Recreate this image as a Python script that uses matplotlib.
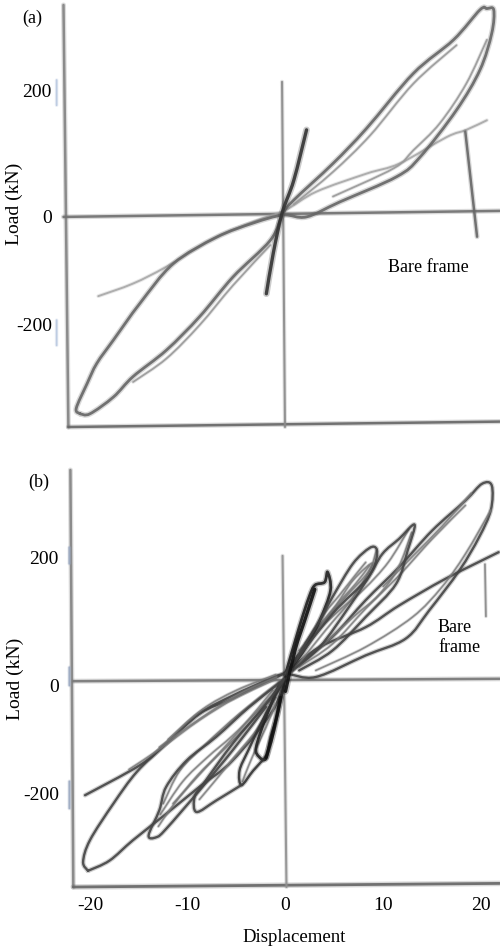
import matplotlib
matplotlib.use('Agg')
import matplotlib.pyplot as plt
from matplotlib.path import Path
from matplotlib.patches import PathPatch

plt.rcParams['font.family'] = ['Liberation Serif', 'DejaVu Serif']

W, H = 500, 946

# ---- panel (a) curves
a_bare_x = [-19.05, -15.5, -12.1, -7.3, -3.2, 0, 3.2, 8.3, 11.7, 16.5, 18.5, 20.6]
a_bare_y = [-135, -114, -86, -39, -11, 8, 39, 69, 86, 130, 142, 158]
a_loop_x = [-20.9, -21.3, -20.2, -19.2, -17.5, -14.8, -11.4, -7.0, -3.2, -0.2, 2.2, 5.6, 11.4, 13.8, 17.5, 19.9, 21.1, 21.3,
            20.6, 19.9, 17.2, 13.1, 8.3, 4.9, 0.9, -0.2, -1.5, -5.3, -8.7, -12.1, -15.5, -17.5, -19.9, -20.9]
a_loop_y = [-331, -322, -281, -247, -208, -147, -81, -37, -13, 0, -3, 22, 64, 97, 175, 242, 303, 342,
            344, 342, 292, 236, 144, 86, 25, 3, -42, -103, -169, -225, -269, -303, -331, -331]
a_in1_x = [17.5, 13.1, 8.7, 4.9, 0.9]
a_in1_y = [283, 219, 133, 72, 18]
a_in2_x = [20.6, 18.5, 15.8, 13.1, 11.1, 4.9]
a_in2_y = [292, 219, 153, 108, 78, 31]
a_in3_x = [-1.5, -5.3, -8.7, -12.1, -15.5]
a_in3_y = [-50, -117, -183, -239, -278]
a_stiff_x = [-1.9, -1.2, -0.3, 0.9, 2.2]
a_stiff_y = [-131, -64, 3, 58, 142]
a_pointer_x = [18.4, 19.6]
a_pointer_y = [139, -36]

# ---- panel (b) curves
b_bare_x = [-20.5, -14.9, -12.2, -8.8, -5.4, -2.0, 0, 3.5, 8.2, 11.6, 16.4, 21.8]
b_bare_y = [-193, -143, -107, -57, -32, -4, 12, 54, 87, 123, 168, 212]
b_loop_x = [-20.2, -20.7, -20, -17.6, -15.2, -12.2, -8.8, -5.4, -2, 0, 3.1, 8.2, 12.3, 14.7, 17.8, 19.8, 21, 21.1,
            20.1, 18.4, 15, 11.6, 8.2, 4.8, 1.4, 0, -1.3, -5.4, -8.8, -12.2, -15.6, -18, -20.2]
b_loop_y = [-319, -304, -268, -207, -154, -107, -57, -27, -2, 9, 4, 40, 68, 115, 182, 237, 282, 323,
            326, 298, 248, 187, 132, 71, 26, 4, -52, -135, -179, -224, -268, -302, -319]
b_big_in1_x = [21, 18.4, 16, 13, 8.2, 3.1]
b_big_in1_y = [282, 209, 154, 104, 54, 15]
b_big_in2_x = [18.4, 15, 11.6, 8.2, 4.8, 1.4]
b_big_in2_y = [290, 234, 173, 118, 59, 21]
b_big_in3_x = [10, 13, 16, 19]
b_big_in3_y = [155, 205, 255, 310]

# positive peaks
b_p1_x = [0, 1.4, 2.4, 3, 4, 4.3, 4.6, 3.5, 2.1, 0.7]
b_p1_y = [9, 87, 137, 157, 162, 179, 148, 98, 54, 21]
b_p2_x = [0, 3.1, 4.8, 6.9, 8.6, 9.3, 9.3, 8.7, 6.5, 3.5, 0.7]
b_p2_y = [9, 87, 137, 193, 219, 218, 201, 176, 121, 54, 15]
b_p2b_x = [1.4, 4.8, 6.9, 8.9, 6.9, 4.1, 1.1]
b_p2b_y = [48, 115, 165, 193, 137, 82, 21]
b_p3_x = [0, 4.8, 8.2, 9.9, 11.6, 13.2, 12.5, 11.3, 8.2, 4.8, 1.4]
b_p3_y = [9, 109, 165, 209, 234, 258, 215, 159, 104, 48, 15]
b_e1_x = [0.5, 3, 5.5, 8, 10.5, 12.6]
b_e1_y = [15, 75, 115, 150, 195, 250]
b_e2_x = [0.5, 4, 7, 9.5, 11.5, 12.9]
b_e2_y = [10, 60, 105, 140, 185, 245]
b_e3_x = [0.5, 3.2, 6, 8.5, 9.3]
b_e3_y = [20, 80, 135, 180, 215]
b_e4_x = [1, 3, 5, 7.2, 8.6]
b_e4_y = [30, 80, 120, 160, 190]
b_e5_x = [2, 4, 5.5, 7.2, 8.2]
b_e5_y = [60, 110, 140, 175, 195]
b_e6_x = [0, 1, 2, 3]
b_e6_y = [-20, 50, 100, 150]

# negative troughs
b_n1_x = [0, -0.8, -1.5, -2, -2.7, -3, -2, -0.6]
b_n1_y = [4, -57, -96, -132, -129, -113, -63, -7]
b_n2_x = [-2, -3.3, -4.5, -4.7, -3.8, -2, -0.2]
b_n2_y = [-129, -152, -176, -152, -118, -57, -2]
b_n3_x = [-4.5, -7.1, -9.1, -9.3, -8.4, -5.4, -2, -0.1]
b_n3_y = [-176, -202, -221, -196, -174, -107, -41, 1]
b_n4_x = [-2, -5.4, -8.8, -12.2, -13.2, -14, -12.9, -12.2, -10.1, -7.1, -3.7, -0.3]
b_n4_y = [-46, -118, -185, -249, -263, -260, -218, -179, -135, -96, -46, -2]
b_n5_x = [-12.5, -10.8, -8.1, -4.7, -0.6]
b_n5_y = [-207, -152, -107, -57, -4]
b_n6_x = [-11.5, -8.1, -4.7, -1.3]
b_n6_y = [-207, -146, -85, -18]
b_n7_x = [-12.9, -8.8, -4.7, -0.9]
b_n7_y = [-113, -66, -24, 4]
b_n8_x = [-0.5, -3, -5.5, -8, -10.5, -12.8]
b_n8_y = [-10, -55, -95, -130, -170, -225]
b_n9_x = [-0.5, -3.5, -6.5, -9, -11.5, -13]
b_n9_y = [-15, -70, -120, -160, -210, -245]
b_n10_x = [-1, -3, -5, -7, -8.8]
b_n10_y = [-30, -85, -125, -165, -200]
b_n11_x = [-1, -2, -3, -3.8, -4.4]
b_n11_y = [-40, -80, -115, -145, -170]
b_n12_x = [-0.5, -1.2, -1.7, -2]
b_n12_y = [-30, -85, -115, -130]
b_n13_x = [-16, -12.5, -8.8, -5, -1]
b_n13_y = [-150, -112, -68, -30, 0]
b_n14_x = [-12, -8.5, -5, -1]
b_n14_y = [-100, -50, -18, 8]

x_ticks = [-20, -10, 0, 10, 20]
# the printed labels do not sit exactly on the scale of the scanned curves
a_y_ticks = [208, -3, -183]
b_y_ticks = [203, -10, -190]
y_labels = ['200', '0', '-200']


def smooth(ax, x, y, color, lw, alpha):
    # catmull-rom through the read points, drawn as bezier segments
    pts = list(zip(x, y))
    verts = [pts[0]]
    codes = [Path.MOVETO]
    for i in range(len(pts) - 1):
        p0 = pts[max(i - 1, 0)]
        p1 = pts[i]
        p2 = pts[i + 1]
        p3 = pts[min(i + 2, len(pts) - 1)]
        c1 = (p1[0] + (p2[0] - p0[0]) / 6, p1[1] + (p2[1] - p0[1]) / 6)
        c2 = (p2[0] - (p3[0] - p1[0]) / 6, p2[1] - (p3[1] - p1[1]) / 6)
        verts += [c1, c2, p2]
        codes += [Path.CURVE4] * 3
    ax.add_patch(PathPatch(Path(verts, codes), fill=False, edgecolor=color, lw=lw, alpha=alpha,
                           capstyle='round', joinstyle='round', clip_on=False))


def line(ax, x, y, color='#555555', lw=1.7, alpha=0.9):
    # wide faint stroke under the line gives the blur of the scan
    smooth(ax, x, y, color, lw * 2.0, 0.25)
    smooth(ax, x, y, color, lw, alpha)


def base(ax, left, yticks, xlabels):
    for s in ax.spines.values():
        s.set_visible(False)
    ax.set_xlim(left, 21.94)
    ax.set_yticks(yticks)
    ax.set_yticklabels(y_labels, fontsize=14)
    ax.set_xticks(x_ticks)
    if xlabels:
        ax.set_xticklabels([str(v) for v in x_ticks], fontsize=14)
    else:
        ax.set_xticklabels([])
    ax.tick_params(length=0, pad=8)
    ax.patch.set_alpha(0)


fig = plt.figure(figsize=(W / 100, H / 100), dpi=100)

# panel (a)
ax = fig.add_axes([63 / W, 1 - 430 / H, (W - 63) / W, 425 / H])
base(ax, -22.65, a_y_ticks, False)
ax.set_ylim(-358, 350)
line(ax, [-22.6, -22.1], [350, -353], '#777777', 1.8, 0.8)
line(ax, [-22.1, 21.9], [-353, -344], '#666666', 1.8, 0.9)
line(ax, [-22.6, 21.9], [-3, 7], '#707070', 1.8, 0.9)
line(ax, [-0.3, 0], [222, -353], '#8a8a8a', 1.5, 0.9)
line(ax, [-23.3, -23.3], [225, 183], '#b9c8e0', 1.3)
line(ax, [-23.3, -23.3], [-175, -217], '#b9c8e0', 1.3)
line(ax, a_bare_x, a_bare_y, '#a8a8a8', 1.4)
line(ax, a_loop_x, a_loop_y, '#666666', 2.0)
line(ax, a_in1_x, a_in1_y, '#999999', 1.3)
line(ax, a_in2_x, a_in2_y, '#999999', 1.3)
line(ax, a_in3_x, a_in3_y, '#999999', 1.3)
line(ax, a_stiff_x, a_stiff_y, '#333333', 2.4)
line(ax, a_pointer_x, a_pointer_y, '#666666', 1.8)
ax.set_ylabel('Load (kN)', fontsize=14, va='center')
ax.yaxis.set_label_coords((14 - 63) / 437, 0.532)
fig.text(32 / W, 1 - 18 / H, '(a)', fontsize=13, ha='center', va='center')
ax.text(14.6, -87, 'Bare frame', fontsize=13, ha='center', va='center')

# panel (b)
ax = fig.add_axes([70 / W, 1 - 887 / H, (W - 70) / W, 417 / H])
base(ax, -22.04, b_y_ticks, True)
ax.set_ylim(-346, 349)
ax.tick_params(axis='x', pad=7)
line(ax, [-22.0, -21.7], [349, -346], '#777777', 1.8, 0.8)
line(ax, [-21.7, 21.9], [-346, -340], '#666666', 2.0, 0.9)
line(ax, [-21.7, 21.9], [-3, 1], '#777777', 1.8, 0.9)
line(ax, [-0.3, 0.1], [206, -346], '#909090', 1.5, 0.9)
line(ax, [-22.1, -22.1], [220, 193], '#9aa8c0', 1.4)
line(ax, [-22.1, -22.1], [20, -10], '#9aa8c0', 1.4)
line(ax, [-22.1, -22.1], [-170, -215], '#9aa8c0', 1.4)
line(ax, b_bare_x, b_bare_y, '#444444', 1.7)
line(ax, b_loop_x, b_loop_y, '#444444', 1.7)
for ex, ey in [(b_big_in1_x, b_big_in1_y), (b_big_in2_x, b_big_in2_y), (b_big_in3_x, b_big_in3_y),
               (b_p2b_x, b_p2b_y), (b_e1_x, b_e1_y), (b_e2_x, b_e2_y), (b_e3_x, b_e3_y),
               (b_e4_x, b_e4_y), (b_e5_x, b_e5_y),
               (b_n5_x, b_n5_y), (b_n6_x, b_n6_y), (b_n7_x, b_n7_y), (b_n8_x, b_n8_y),
               (b_n9_x, b_n9_y), (b_n10_x, b_n10_y), (b_n11_x, b_n11_y), (b_n13_x, b_n13_y),
               (b_n14_x, b_n14_y)]:
    line(ax, ex, ey, '#777777', 1.2, 0.8)
line(ax, b_p1_x, b_p1_y, '#222222', 2.0)
line(ax, b_p2_x, b_p2_y, '#444444', 1.7)
line(ax, b_p3_x, b_p3_y, '#444444', 1.7)
line(ax, b_n1_x, b_n1_y, '#222222', 2.0)
line(ax, b_n2_x, b_n2_y, '#333333', 1.7)
line(ax, b_n3_x, b_n3_y, '#444444', 1.7)
line(ax, b_n4_x, b_n4_y, '#444444', 1.7)
line(ax, b_e6_x, b_e6_y, '#111111', 2.4)
line(ax, b_n12_x, b_n12_y, '#111111', 2.4)
line(ax, [20.4, 20.5], [192, 105], '#888888', 1.3)
ax.set_ylabel('Load (kN)', fontsize=14, va='center')
ax.yaxis.set_label_coords((15 - 70) / 430, 0.50)
ax.set_xlabel('Displacement', fontsize=13.5, va='center')
ax.xaxis.set_label_coords(224 / 430, -50 / 417)
fig.text(39 / W, 1 - 482 / H, '(b)', fontsize=13, ha='center', va='center')
fig.text(438 / W, 1 - 627 / H, 'Bare', fontsize=13, ha='left', va='center')
fig.text(438 / W, 1 - 648 / H, 'frame', fontsize=13, ha='left', va='center')

fig.savefig('out.png', dpi=100)
